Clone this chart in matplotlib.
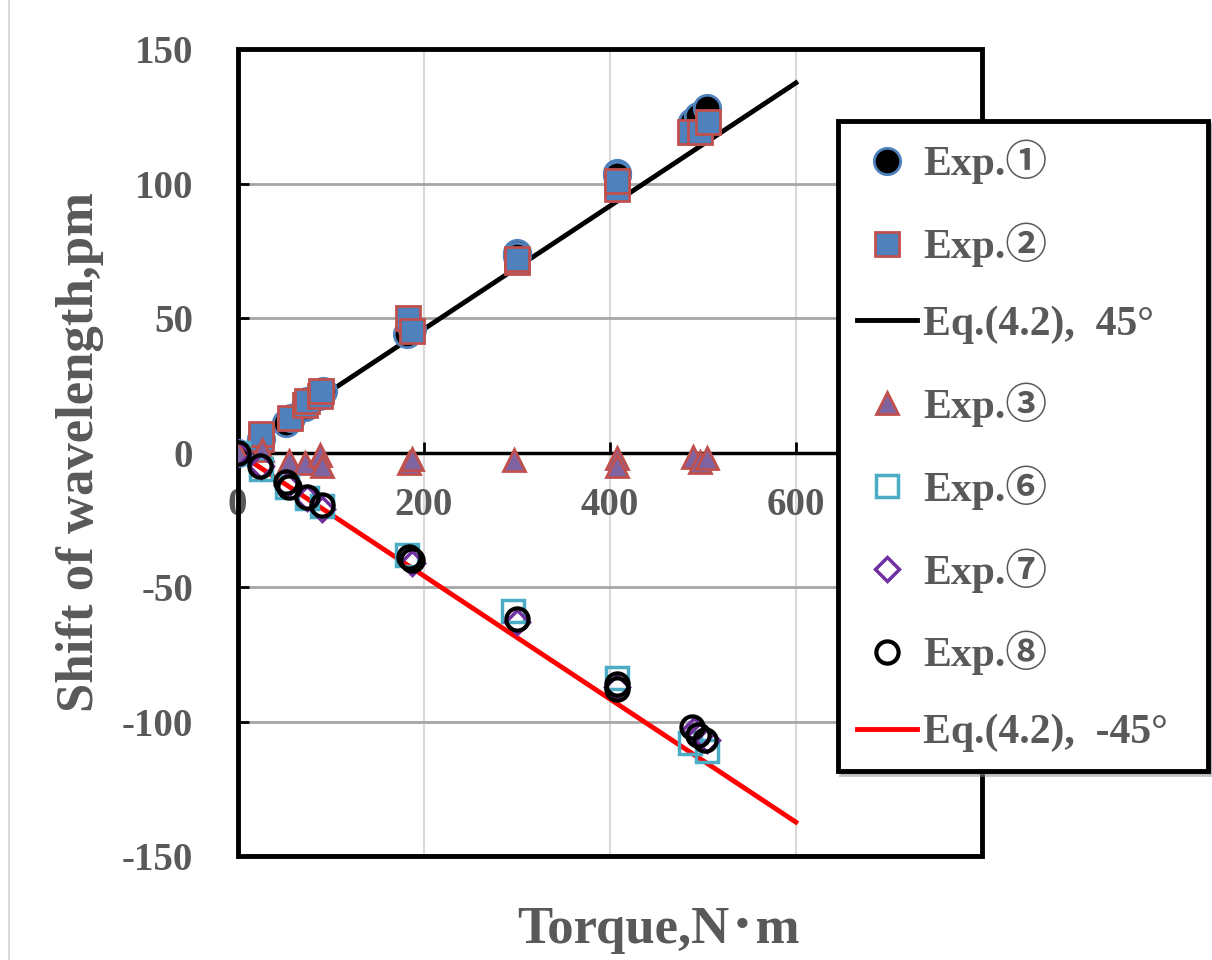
import numpy as np
import matplotlib.pyplot as plt
from matplotlib.patches import Rectangle
from matplotlib.lines import Line2D

plt.rcParams['font.family'] = ['Liberation Serif', 'Noto Sans CJK JP']
plt.rcParams['font.weight'] = 'bold'
plt.rcParams['axes.unicode_minus'] = False

# data (torque N·m, shift pm)
exp1_x = [0, 25, 52, 57, 73, 75, 88, 92, 182, 187, 300, 300, 408, 408, 488, 495, 504]
exp1_y = [0, 5, 11, 13, 17, 19, 21, 23, 44, 46, 74, 73, 104, 103, 123, 125, 128]

exp2_x = [25, 25, 56, 73, 75, 89, 90, 183, 188, 300, 300, 408, 408, 486, 497, 506]
exp2_y = [5, 7, 13, 17.5, 19, 21, 23, 50, 45, 71, 72, 98, 101, 119, 119, 123]

exp3_x = [0, 26, 55, 73, 89, 91, 184, 188, 297, 408, 408, 489, 497, 505]
exp3_y = [0, 1, -3, -4, -1, -5, -4, -2.5, -2.7, -2, -5, -1.5, -3.6, -2]

exp6_x = [0, 25, 53, 75, 91, 182, 296, 408, 486, 504]
exp6_y = [0, -6, -13, -17, -20, -38, -59, -84, -108, -111]

exp7_x = [0, 25, 53, 75, 91, 188, 300, 408, 490, 497, 504]
exp7_y = [0, -5, -12, -17, -21, -41, -63, -87, -103, -105, -107]

exp8_x = [0, 24, 52, 55, 75, 91, 184, 188, 300, 408, 408, 488, 495, 502]
exp8_y = [0, -5, -11, -13, -16.6, -19.7, -39, -40, -62, -86, -88, -102, -105, -107]

# Eq.(4.2) lines
eq_x = [0, 600]
eq_pos = [0, 137.4]
eq_neg = [0, -137.4]

grey_txt = '#595959'

fig = plt.figure(figsize=(12.12, 9.6), dpi=100)
ax = fig.add_axes([237.5 / 1212, 1 - 856 / 960, 744.5 / 1212, 807 / 960])

ax.plot(exp1_x, exp1_y, 'o', ls='none', ms=19, mfc='black', mec='#4F81BD', mew=2,
        zorder=3, label='Exp.①')
ax.plot(exp2_x, exp2_y, 's', ls='none', ms=17, mfc='#4F81BD', mec='#C0504D', mew=2,
        zorder=3, label='Exp.②')
ax.plot(eq_x, eq_pos, color='black', lw=3.5, zorder=2.5, label='Eq.(4.2),  45°')
ax.plot(exp3_x, exp3_y, '^', ls='none', ms=16, mfc='#8064A2', mec='#C0504D', mew=2,
        zorder=3, label='Exp.③')
ax.plot(exp6_x, exp6_y, 's', ls='none', ms=16, mfc='none', mec='#4BACC6', mew=2.5,
        zorder=3, label='Exp.⑥')
ax.plot(exp7_x, exp7_y, 'D', ls='none', ms=12, mfc='none', mec='#7030A0', mew=2.5,
        zorder=3, label='Exp.⑦')
ax.plot(exp8_x, exp8_y, 'o', ls='none', ms=16, mfc='none', mec='black', mew=3,
        zorder=3, label='Exp.⑧')
ax.plot(eq_x, eq_neg, color='red', lw=3.5, zorder=2.5, label='Eq.(4.2),  -45°')

ax.set_xlim(0, 800)
ax.set_ylim(-150, 150)
ax.set_xticks(np.arange(0, 601, 200))
ax.set_yticks(np.arange(-150, 151, 50))

# x axis crosses at zero, box drawn separately
for s in ['top', 'right', 'left']:
    ax.spines[s].set_visible(False)
ax.spines['bottom'].set_position(('data', 0))
ax.spines['bottom'].set_linewidth(2.5)
ax.add_patch(Rectangle((0, 0), 1, 1, transform=ax.transAxes, fill=False,
                       ec='black', lw=3.5, zorder=2.8, clip_on=False))

ax.tick_params(axis='x', direction='in', length=8, width=2, pad=25,
               labelsize=28, labelcolor=grey_txt)
ax.tick_params(axis='y', direction='in', length=8, width=2, pad=32,
               labelsize=28, labelcolor=grey_txt)

ax.yaxis.grid(True, color='#A6A6A6', lw=2)
ax.xaxis.grid(True, color='#D9D9D9', lw=1.5)
ax.set_axisbelow(True)

ax.set_xlabel('Torque,N･m', fontsize=38, fontweight='bold', color=grey_txt,
              va='baseline')
ax.xaxis.set_label_coords((658 - 237.5) / 744.5, (856 - 943) / 807)
ax.set_ylabel('Shift of wavelength,pm', fontsize=38, fontweight='bold',
              color=grey_txt, va='center')
ax.yaxis.set_label_coords((80 - 237.5) / 744.5, 0.5)

leg = fig.legend(loc='upper left',
                 bbox_to_anchor=(838 / 1212, 1 - 773 / 960, 370 / 1212, 652 / 960),
                 mode='expand', borderaxespad=0, fontsize=30, labelcolor=grey_txt,
                 fancybox=False, shadow={'color': '0.55', 'alpha': 0.5},
                 framealpha=1, edgecolor='black', handlelength=1.45,
                 handletextpad=0.15, borderpad=0.45, labelspacing=0.92)
leg.get_frame().set_linewidth(3.5)

fig.add_artist(Line2D([9 / 1212, 9 / 1212], [0, 1], transform=fig.transFigure,
                      color='#D9D9D9', lw=1.5))

fig.savefig('out.png', dpi=100)
